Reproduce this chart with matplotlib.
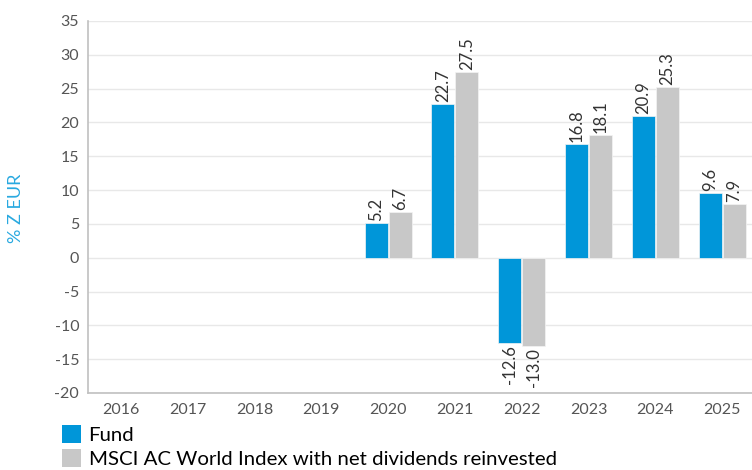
import numpy as np
import matplotlib.pyplot as plt
from matplotlib.patches import Patch

plt.rcParams['font.family'] = ['Lato', 'DejaVu Sans']
plt.rcParams['axes.unicode_minus'] = False

years = ['2016', '2017', '2018', '2019', '2020', '2021', '2022', '2023', '2024', '2025']
fund = [np.nan, np.nan, np.nan, np.nan, 5.2, 22.7, -12.6, 16.8, 20.9, 9.6]
index = [np.nan, np.nan, np.nan, np.nan, 6.7, 27.5, -13.0, 18.1, 25.3, 7.9]
series_names = ['Fund', 'MSCI AC World Index with net dividends reinvested']
colors = ['#0096D9', '#C8C8C8']

fig = plt.figure(figsize=(7.52, 4.70), dpi=100)
ax = fig.add_axes([87.5 / 752, 1 - 393 / 470, 668 / 752, 372 / 470])

x = np.arange(len(years))
w = 0.345
for vals, off, col in [(fund, -w / 2 - 0.008, colors[0]), (index, w / 2 + 0.008, colors[1])]:
    bars = ax.bar(x + off, vals, w, color=col, edgecolor='#F4F4F4', linewidth=0.5, zorder=3)
    for b, v in zip(bars, vals):
        if np.isnan(v):
            continue
        cx = b.get_x() + b.get_width() / 2
        if v >= 0:
            ax.text(cx, v + 0.3, f'{v:.1f}', rotation=90, ha='center', va='bottom',
                    fontsize=12, color='#333333')
        else:
            ax.text(cx, v - 0.3, f'{v:.1f}', rotation=90, ha='center', va='top',
                    fontsize=12, color='#333333')

ax.set_xlim(-0.5, 9.5)
ax.set_ylim(-20, 35)
ax.set_yticks(range(-20, 36, 5))
ax.set_xticks(x)
ax.set_xticklabels(years)
ax.tick_params(length=0, labelsize=11.5, colors='#555555')
ax.tick_params(axis='y', pad=6)
ax.tick_params(axis='x', pad=7)
ax.grid(axis='y', color='#E8E8E8', linewidth=1, zorder=0)
for s in ['top', 'right']:
    ax.spines[s].set_visible(False)
for s in ['left', 'bottom']:
    ax.spines[s].set_color('#C0C0C0')
    ax.spines[s].set_linewidth(1.2)

fig.text(16 / 752, 1 - 208 / 470, '% Z EUR', rotation=90, ha='center', va='center',
         fontsize=13, color='#29A9E0')

handles = [Patch(facecolor=c, edgecolor='none') for c in colors]
fig.legend(handles, series_names, loc='upper left', bbox_to_anchor=(62 / 752, 1 - 425 / 470),
           frameon=False, fontsize=14.7, handlelength=0.95, handleheight=0.95,
           handletextpad=0.35, labelspacing=0.27, borderaxespad=0, borderpad=0)

fig.savefig('out.png', dpi=100)
